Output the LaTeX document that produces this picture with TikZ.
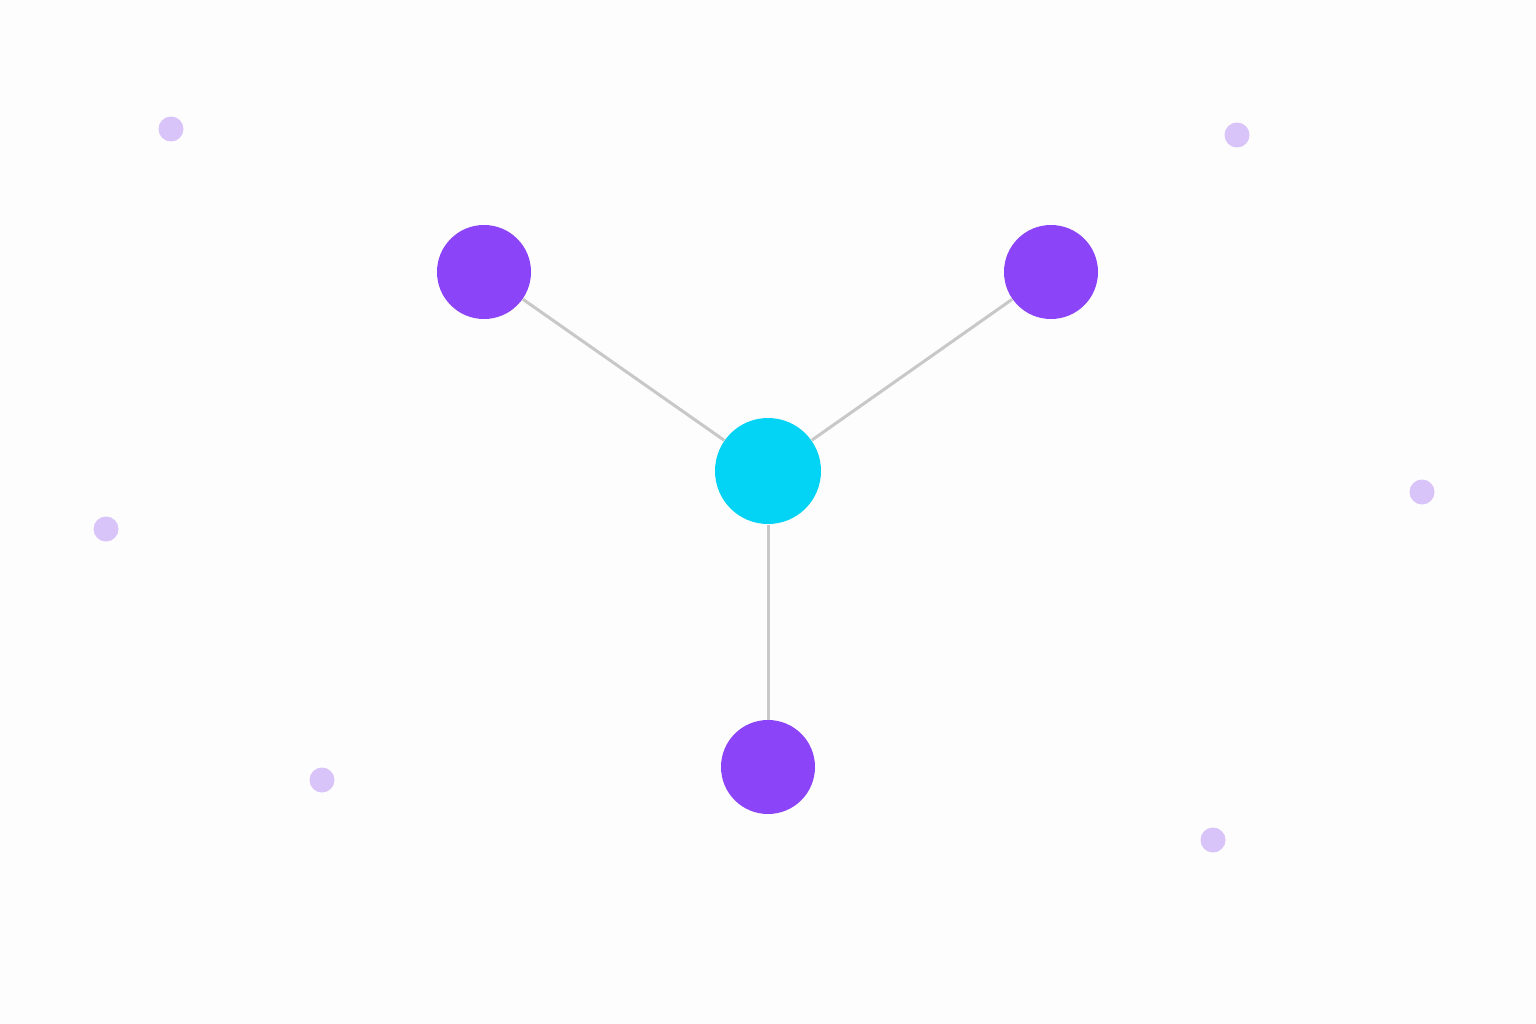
\documentclass[tikz,border=0pt]{standalone}
\usetikzlibrary{positioning}

\definecolor{hubcyan}{RGB}{3,211,245}
\definecolor{leafpurple}{RGB}{139,68,247}
\definecolor{dotlilac}{RGB}{217,196,250}
\definecolor{linkgray}{RGB}{200,200,200}
\definecolor{bgwhite}{RGB}{253,253,253}

\tikzset{every picture/.style={line width=0.75pt}}
\tikzset{
  hub/.style={circle, fill=hubcyan, inner sep=0pt, minimum size=79.5pt},
  leaf/.style={circle, fill=leafpurple, inner sep=0pt, minimum size=70.5pt},
  speck/.style={circle, fill=dotlilac, inner sep=0pt, minimum size=18.75pt},
  link/.style={draw=linkgray, line width=2.25pt}
}

\begin{document}
\begin{tikzpicture}[x=0.75pt,y=0.75pt,yscale=-1,xscale=1]
				%background, sets the diagram size to 1536 x 1024
				\fill [bgwhite] (0,0) rectangle (1536,1024) ;
				\useasboundingbox (0,0) rectangle (1536,1024) ;
				
				%Small dots
				\node [speck] (d1) at (171,129) {};
				\node [speck] (d2) at (1237,135) {};
				\node [speck] (d3) at (106,529) {};
				\node [speck] (d4) at (1422,492) {};
				\node [speck] (d5) at (322,780) {};
				\node [speck] (d6) at (1213,840) {};
				
				%Hub and leaves
				\node [hub] (hub) at (768,471) {};
				\node [leaf] (left) at (484,272) {};
				\node [leaf] (right) at (1051,272) {};
				\node [leaf] (bottom) at (768,767) {};
				
				%Links
				\draw [link] (hub) -- (left) ;
				\draw [link] (hub) -- (right) ;
				\draw [link] (hub) -- (bottom) ;
			\end{tikzpicture}
\end{document}
